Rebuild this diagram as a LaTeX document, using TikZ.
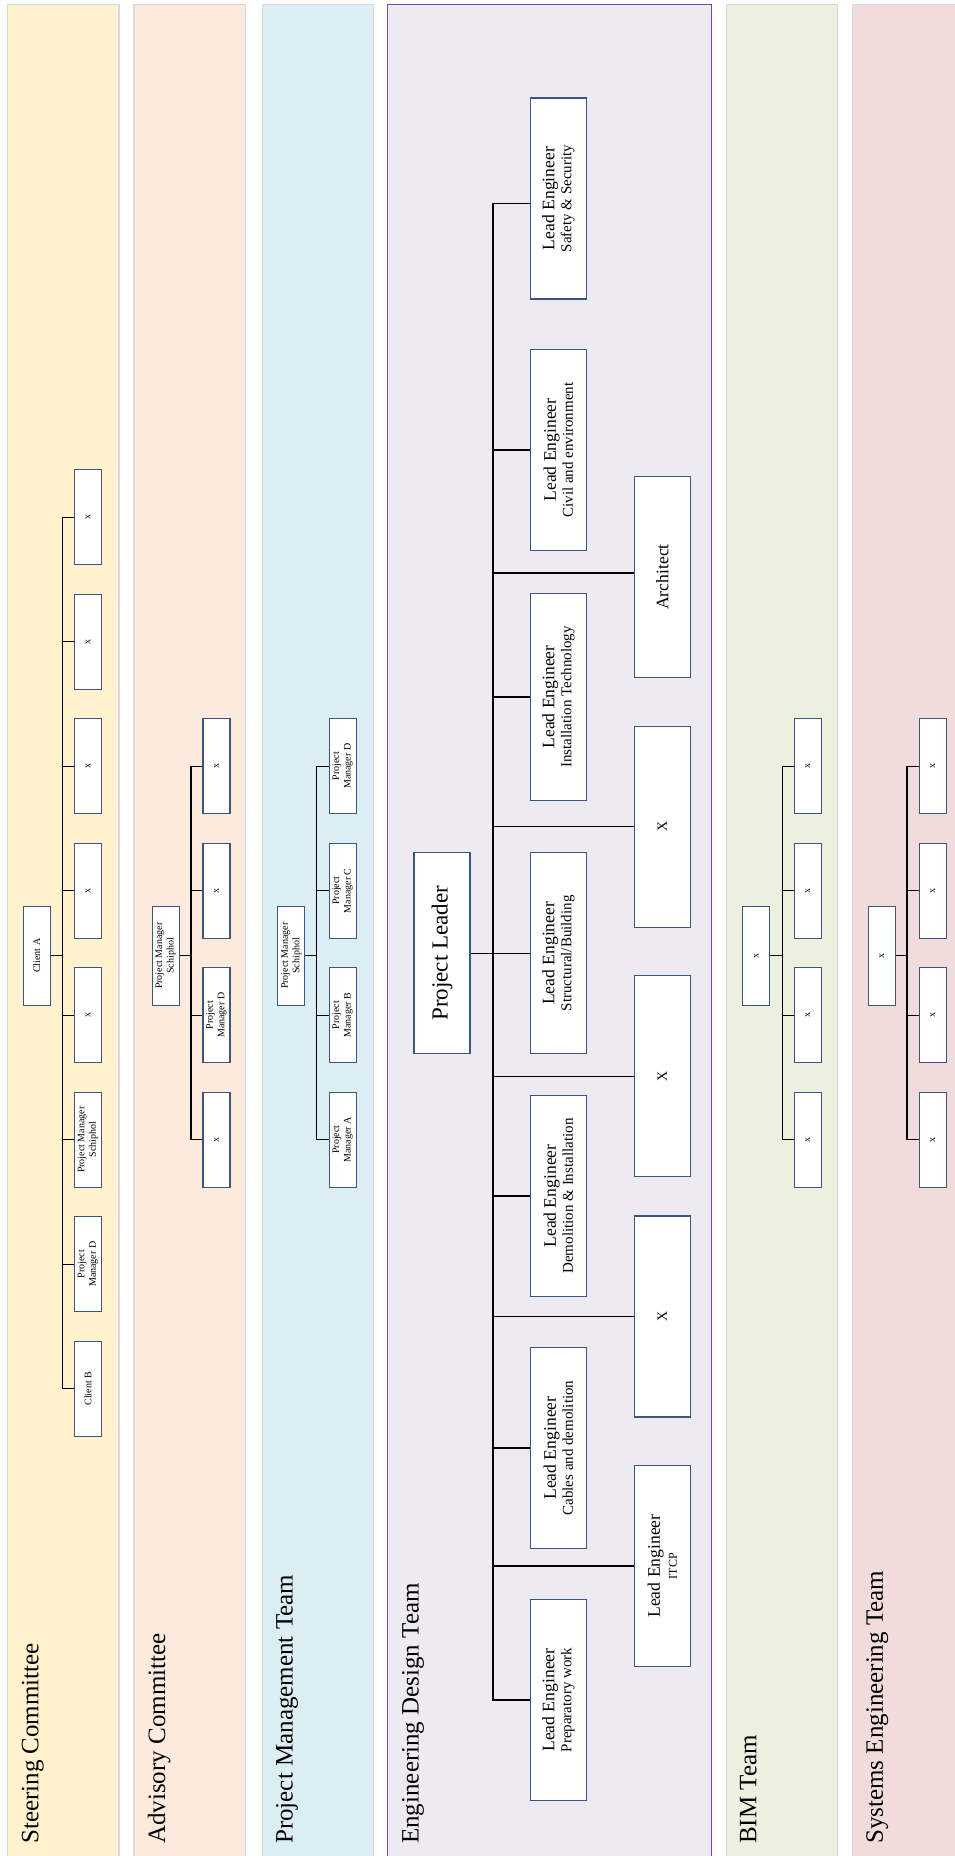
\documentclass[tikz,border=0pt]{standalone}
\usepackage{fontspec}
\usepackage{graphicx}
\setmainfont{Liberation Serif}
\definecolor{stc}{HTML}{FFF2CC}
\definecolor{adc}{HTML}{FCEBDD}
\definecolor{pmc}{HTML}{DBEEF3}
\definecolor{engc}{HTML}{EDEAF2}
\definecolor{bimc}{HTML}{EBF1DE}
\definecolor{sysc}{HTML}{F2DCDB}
\definecolor{lanegray}{HTML}{D9D9D9}
\definecolor{engborder}{HTML}{7A45B8}
\definecolor{boxblue}{HTML}{3B5580}
\newcommand\esub{\fontsize{15}{16}\selectfont}
\tikzset{
  conn/.style={draw=black, line width=1.25pt},
  lane/.style={draw=lanegray, line width=1.2pt},
  box/.style={draw=boxblue, fill=white, line width=1.2pt, rotate=90, align=center, inner sep=1pt},
  sbox/.style={box, minimum width=95pt, minimum height=27pt, font=\fontsize{10}{11.5}\selectfont},
  hbox/.style={sbox, minimum width=99pt},
  ebox/.style={box, minimum width=201pt, minimum height=56pt, font=\fontsize{17.6}{17}\selectfont},
  ttl/.style={rotate=90, anchor=north west, inner sep=0pt, font=\fontsize{25}{30}\selectfont},
}
\begin{document}
\begin{tikzpicture}[x=1pt,y=-1pt]
\useasboundingbox (0,0) rectangle (955,1856);
\clip (0,0) rectangle (955,1856);
\fill[white] (0,0) rectangle (955,1856);
% lanes
\draw[lane, fill=stc] (7.5,4.7) rectangle (119,1870);
\draw[lane, fill=adc] (134,4.7) rectangle (245.7,1870);
\draw[lane, fill=pmc] (262.3,4.7) rectangle (373.3,1870);
\draw[line width=1.4pt, draw=engborder, fill=engc] (387.7,4.7) rectangle (711.7,1870);
\draw[lane, fill=bimc] (726.7,4.7) rectangle (837.3,1870);
\draw[lane, fill=sysc] (852.3,4.7) rectangle (965,1870);
% titles
\node[ttl] (tst) at (21.5,1844) {Steering Committee};
\node[ttl] (tad) at (147.5,1844) {Advisory Committee};
\node[ttl] (tpm) at (275.8,1844) {Project Management Team};
\node[ttl] (ten) at (401.8,1844) {Engineering Design Team};
\node[ttl] (tbi) at (739.8,1844) {BIM Team};
\node[ttl] (tsy) at (866,1844) {Systems Engineering Team};

% ---------- Steering Committee
\node[hbox] (sa) at (36.7,955.8) {Client A};
\node[sbox] (s0) at (88,1388.7) {Client B};
\node[sbox] (s1) at (88,1264.2) {Project\\Manager D};
\node[sbox] (s2) at (88,1139.7) {Project Manager\\Schiphol};
\node[sbox] (s3) at (88,1015.2) {x};
\node[sbox] (s4) at (88,890.7) {x};
\node[sbox] (s5) at (88,766.2) {x};
\node[sbox] (s6) at (88,641.7) {x};
\node[sbox] (s7) at (88,517.2) {x};
\coordinate (sT) at (62.5,517.2);
\coordinate (sB) at (62.5,1388.7);
\draw[conn, line cap=rect] (sT) -- (sB);
\draw[conn] (sa.south) -- (sa.south -| sT);
\foreach \n in {s0,s1,s2,s3,s4,s5,s6,s7} \draw[conn] (\n.north) -- (\n.north -| sT);

% ---------- Advisory Committee
\node[hbox] (aa) at (165.7,955.8) {Project Manager\\Schiphol};
\node[sbox] (a2) at (216.5,1139.7) {x};
\node[sbox] (a3) at (216.5,1015.2) {Project\\Manager D};
\node[sbox] (a4) at (216.5,890.7) {x};
\node[sbox] (a5) at (216.5,766.2) {x};
\coordinate (aT) at (191,766.2);
\coordinate (aB) at (191,1139.7);
\draw[conn, line cap=rect] (aT) -- (aB);
\draw[conn] (aa.south) -- (aa.south -| aT);
\foreach \n in {a2,a3,a4,a5} \draw[conn] (\n.north) -- (\n.north -| aT);

% ---------- Project Management Team
\node[hbox] (pa) at (291.3,955.8) {Project Manager\\Schiphol};
\node[sbox] (p2) at (342.7,1139.7) {Project\\Manager A};
\node[sbox] (p3) at (342.7,1015.2) {Project\\Manager B};
\node[sbox] (p4) at (342.7,890.7) {Project\\Manager C};
\node[sbox] (p5) at (342.7,766.2) {Project\\Manager D};
\coordinate (pT) at (316.7,766.2);
\coordinate (pB) at (316.7,1139.7);
\draw[conn, line cap=rect] (pT) -- (pB);
\draw[conn] (pa.south) -- (pa.south -| pT);
\foreach \n in {p2,p3,p4,p5} \draw[conn] (\n.north) -- (\n.north -| pT);

% ---------- BIM Team
\node[hbox] (ba) at (756.3,955.8) {x};
\node[sbox] (b2) at (807.8,1139.7) {x};
\node[sbox] (b3) at (807.8,1015.2) {x};
\node[sbox] (b4) at (807.8,890.7) {x};
\node[sbox] (b5) at (807.8,766.2) {x};
\coordinate (bT) at (782.3,766.2);
\coordinate (bB) at (782.3,1139.7);
\draw[conn, line cap=rect] (bT) -- (bB);
\draw[conn] (ba.south) -- (ba.south -| bT);
\foreach \n in {b2,b3,b4,b5} \draw[conn] (\n.north) -- (\n.north -| bT);

% ---------- Systems Engineering Team
\node[hbox] (ya) at (881.7,955.8) {x};
\node[sbox] (y2) at (932.7,1139.7) {x};
\node[sbox] (y3) at (932.7,1015.2) {x};
\node[sbox] (y4) at (932.7,890.7) {x};
\node[sbox] (y5) at (932.7,766.2) {x};
\coordinate (yT) at (907,766.2);
\coordinate (yB) at (907,1139.7);
\draw[conn, line cap=rect] (yT) -- (yB);
\draw[conn] (ya.south) -- (ya.south -| yT);
\foreach \n in {y2,y3,y4,y5} \draw[conn] (\n.north) -- (\n.north -| yT);

% ---------- Engineering Design Team
\node[ebox, font=\fontsize{23}{26}\selectfont] (pl) at (442,953.3) {Project Leader};
\node[ebox] (e1) at (558.3,198.5) {Lead Engineer\\{\esub Safety \& Security}};
\node[ebox] (e2) at (558.3,450) {Lead Engineer\\{\esub Civil and environment}};
\node[ebox, minimum width=207pt] (e3) at (558.3,697) {Lead Engineer\\{\esub Installation Technology}};
\node[ebox] (e4) at (558.3,953.3) {Lead Engineer\\{\esub Structural/Building}};
\node[ebox] (e5) at (558.3,1196) {Lead Engineer\\{\esub Demolition \& Installation}};
\node[ebox] (e6) at (558.3,1448) {Lead Engineer\\{\esub Cables and demolition}};
\node[ebox] (e7) at (558.3,1700) {Lead Engineer\\{\esub Preparatory work}};
\node[ebox] (f1) at (662.4,577) {Architect};
\node[ebox, font=\fontsize{14}{16}\selectfont] (f2) at (662.4,826.8) {X};
\node[ebox, font=\fontsize{14}{16}\selectfont] (f3) at (662.4,1076.3) {X};
\node[ebox, font=\fontsize{14}{16}\selectfont] (f4) at (662.4,1316.5) {X};
\node[ebox] (f5) at (662.4,1566) {Lead Engineer\\{\fontsize{12}{13}\selectfont ITCP}};
\coordinate (eT) at (493,203.6);
\coordinate (eB) at (493,1700);
\draw[conn, line cap=rect] (eT) -- (eB);
\draw[conn] (pl.south) -- (pl.south -| eT);
\draw[conn] ([yshift=-5.1pt]e1.north) -- ([yshift=-5.1pt]e1.north -| eT);
\draw[conn] ([yshift=4pt]f1.north) -- ([yshift=4pt]f1.north -| eT);
\foreach \n in {e2,e3,e4,e5,e6,e7,f2,f3,f4,f5} \draw[conn] (\n.north) -- (\n.north -| eT);
\end{tikzpicture}
\end{document}
